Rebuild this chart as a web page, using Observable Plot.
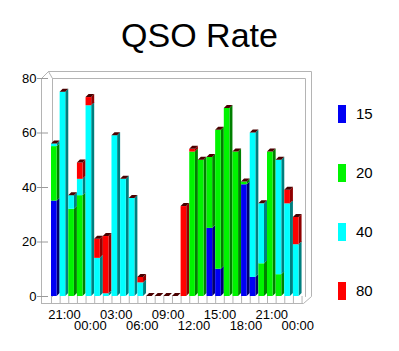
<!DOCTYPE html>
<html><head><meta charset="utf-8">
<script src="https://cdn.jsdelivr.net/npm/d3@7"></script>
<script src="https://cdn.jsdelivr.net/npm/@observablehq/plot@0.6"></script>
<style>
body{margin:0;background:#fff;font-family:Arial,"Liberation Sans",sans-serif;}
#wrap{position:relative;width:399px;height:351px;overflow:hidden;background:#fff;}
#chart{position:absolute;left:0;top:0;}
#title{position:absolute;left:0;width:399px;top:18px;text-align:center;font-size:34px;line-height:34px;color:#000;}
.sw{position:absolute;width:8px;height:18px;}
.lb{position:absolute;font-size:15px;line-height:18px;color:#000;}
</style></head><body>
<div id="wrap"><div id="chart"></div><div id="title">QSO Rate</div><div id="legend"></div></div>
<script>
// hourly slots
const hours = ["20:00","21:00","22:00","23:00","00:00","01:00","02:00","03:00","04:00","05:00","06:00","07:00","08:00","09:00","10:00","11:00","12:00","13:00","14:00","15:00","16:00","17:00","18:00","19:00","20:00","21:00","22:00","23:00","00:00"];
// series (stack order bottom -> top)
const s15 = [35,0,0,0,0,0,0,0,0,0,0,0,0,0,0,0,0,0,25,10,0,0,41,7,0,0,0,0,0];
const s20 = [20,0,32,37,0,0,0,0,0,0,0,0,0,0,0,0,53,50,26,51,69,53,1,0,12,53,8,0,0];
const s40 = [1,75,5,6,70,14,1,59,43,36,5,0,0,0,0,0,0,0,0,0,0,0,0,53,22,0,42,34,19];
const s80 = [0,0,0,6,3,7,21,0,0,0,2,0,0,0,0,33,1,0,0,0,0,0,0,0,0,0,0,5,10];
const seriesNames = ["15","20","40","80"];
const seriesColors = ["#0000f4","#00f400","#00ffff","#ff0000"];
const sideColors = ["#000070","#008000","#007f7f","#900000"];
const topColor = "#4a0000";
const yTicks = [0,20,40,60,80];
const xTickLabels = ["21:00","00:00","03:00","06:00","09:00","12:00","15:00","18:00","21:00","00:00"];

// layout
const W = 399, H = 351;
const X0 = 51, KX = 8.64;   // px of slot 0, px per slot
const Y0 = 296, KY = 2.725; // px of value 0, px per unit
const fx = px => (px - X0) / KX;
const fy = py => (Y0 - py) / KY;
const DX = 3 / KX, DY = 3 / KY, FW = 1 - DX;

const series = [s15, s20, s40, s80];
const segs = [], tops = [];
hours.forEach((h, i) => {
  let b = 0;
  series.forEach((s, k) => {
    const v = s[i];
    if (v > 0) segs.push({i, k, b, t: b + v});
    b += v;
  });
  tops.push({i, t: b});
});
const sideRows = [];
segs.forEach((d, n) => {
  sideRows.push({id: n, x1: d.i + FW, x2: d.i + FW, y1: d.b, y2: d.t, fill: sideColors[d.k]});
  sideRows.push({id: n, x1: d.i + 1, x2: d.i + 1, y1: d.b + DY, y2: d.t + DY, fill: sideColors[d.k]});
});
const topRows = [];
tops.forEach((d, n) => {
  topRows.push({id: n, x1: d.i, x2: d.i + FW, y1: d.t, y2: d.t});
  topRows.push({id: n, x1: d.i + DX, x2: d.i + 1, y1: d.t + DY, y2: d.t + DY});
});

// 3D frame (pixel outline converted to data units)
const framePx = [
  {id: "outer", pts: [[41,303],[41,78],[48,71],[311,71],[311,296],[303,303],[41,303]]},
  {id: "inner", pts: [[52,296],[52,78],[305,78],[305,296]]},
  {id: "back", pts: [[52,78],[48,71]]}
];
const frameRows = [];
framePx.forEach(f => f.pts.forEach(p => frameRows.push({id: f.id, x: fx(p[0]), y: fy(p[1])})));
const bounds = d3.range(hours.length + 1);
const xTicks = xTickLabels.map((lab, j) => ({i: 1 + 3 * j, lab, row: j % 2}));

const chart = Plot.plot({
  width: W, height: H,
  marginLeft: X0, marginRight: W - (X0 + KX * hours.length),
  marginTop: Y0 - 80 * KY, marginBottom: H - Y0,
  x: {domain: [0, hours.length], axis: null},
  y: {domain: [0, 80], axis: null},
  color: {type: "identity"},
  style: {fontFamily: "Arial, 'Liberation Sans', sans-serif", background: "#fff", overflow: "visible"},
  marks: [
    Plot.line(frameRows, {x: "x", y: "y", z: "id", stroke: "#b4b4b4", strokeWidth: 1}),
    Plot.ruleX(bounds, {x: d => d, y1: 0, y2: fy(303), stroke: "#b4b4b4", strokeWidth: 1}),
    Plot.ruleY([0], {x1: fx(41), x2: fx(303), y: fy(303), stroke: "#b4b4b4"}),
    Plot.ruleY(yTicks, {y: d => d, x1: fx(37), x2: fx(48), stroke: "#9a9a9a"}),
    Plot.text(yTicks, {x: fx(36), y: d => d, text: d => String(d), textAnchor: "end", fontSize: 13, fill: "#000"}),
    Plot.text(xTicks.filter(d => d.row === 0), {x: d => d.i + 0.5, y: fy(314), text: "lab", fontSize: 13, fill: "#000"}),
    Plot.text(xTicks.filter(d => d.row === 1), {x: d => d.i + 0.5, y: fy(325), text: "lab", fontSize: 13, fill: "#000"}),
    Plot.area(sideRows, {x1: "x1", x2: "x2", y1: "y1", y2: "y2", z: "id", fill: "fill"}),
    Plot.rect(segs, {x1: d => d.i, x2: d => d.i + FW, y1: "b", y2: "t", fill: d => seriesColors[d.k]}),
    Plot.area(topRows, {x1: "x1", x2: "x2", y1: "y1", y2: "y2", z: "id", fill: topColor})
  ]
});
document.getElementById("chart").appendChild(chart);

const legend = document.getElementById("legend");
const legTops = [105, 164, 223, 282];
seriesNames.forEach((name, k) => {
  const sw = document.createElement("div");
  sw.className = "sw"; sw.style.left = "338px"; sw.style.top = legTops[k] + "px"; sw.style.background = seriesColors[k];
  legend.appendChild(sw);
  const lb = document.createElement("div");
  lb.className = "lb"; lb.style.left = "356px"; lb.style.top = legTops[k] + "px"; lb.textContent = name;
  legend.appendChild(lb);
});
</script>
</body></html>
